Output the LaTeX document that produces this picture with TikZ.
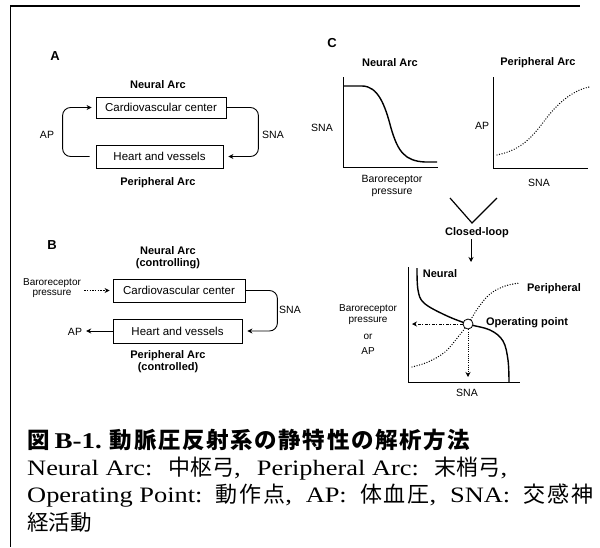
\documentclass[tikz,border=0pt]{standalone}
\usepackage{fontspec}
\setmainfont{Liberation Sans}
\newfontfamily\cjk{Noto Sans CJK JP}
\newfontfamily\rmx[FakeStretch=1.2]{Liberation Serif}
\usetikzlibrary{arrows.meta}
\newcommand\hf{\hspace{0pt plus 1fill}}
\newcommand\hc{\hspace{0pt plus 0.25fill}}
\begin{document}
\begin{tikzpicture}[x=1pt,y=-1pt,
  box/.style={draw, line width=0.8pt, inner sep=0pt, font=\fontsize{11.5}{13}\selectfont},
  lab/.style={font=\fontsize{10.5}{12}\selectfont, inner sep=1pt, align=center},
  blab/.style={font=\bfseries\fontsize{11}{12}\selectfont, inner sep=1pt, align=center},
  letter/.style={font=\bfseries\fontsize{13}{14}\selectfont, inner sep=0pt},
  conn/.style={line width=0.9pt, -{Stealth[length=5pt,width=5pt]}},
  axis/.style={line width=1pt},
  curve/.style={line width=1.4pt},
  dotc/.style={line width=1.4pt, dash pattern=on 0pt off 2.6pt, line cap=round},
  captxt/.style={anchor=base west, inner sep=0pt}]
\useasboundingbox (0,0) rectangle (600,547);
% frame
\draw[line width=1.5pt] (10,6) -- (580,6);
\draw[line width=0.8pt] (10.5,6) -- (10.5,547);

% ---------- Panel A
\node[letter] (lA) at (55,56) {A};
\node[blab] (naA) at (158,85) {Neural Arc};
\node[box, minimum width=130pt, minimum height=21pt] (cvA) at (161,107.5) {Cardiovascular center};
\node[box, minimum width=127pt, minimum height=23pt] (hvA) at (159.5,156.5) {Heart and vessels};
\node[blab] (paA) at (158,183) {Peripheral Arc};
\node[lab] (apA) at (47,135) {AP};
\node[lab] (snaA) at (273,135) {SNA};
\draw[conn, rounded corners=8pt, shorten <=6pt, shorten >=4pt] (hvA.west) -- ++(-33,0) |- (cvA.west);
\draw[conn, rounded corners=8pt, shorten >=5pt] (cvA.east) -- ++(32,0) |- (hvA.east);

% ---------- Panel B
\node[letter] (lB) at (52,245) {B};
\node[blab] (naB) at (168,257.5) {Neural Arc\\(controlling)};
\node[box, minimum width=132pt, minimum height=23pt] (cvB) at (179,290.5) {Cardiovascular center};
\node[box, minimum width=129pt, minimum height=24pt] (hvB) at (177.5,331) {Heart and vessels};
\node[blab] (paB) at (168,361.5) {Peripheral Arc\\(controlled)};
\node[lab, font=\fontsize{10}{10}\selectfont] (brB) at (52,288) {Baroreceptor\\pressure};
\draw[conn, dash pattern=on 1.5pt off 1.2pt, shorten <=2pt, shorten >=3pt] (brB.east |- cvB.west) -- (cvB.west);
\draw[conn, rounded corners=8pt, shorten >=5pt] (cvB.east) -- ++(32,0) |- (hvB.east);
\node[lab] (snaB) at (290,310) {SNA};
\node[lab] (apB) at (75,332) {AP};
\draw[conn, shorten >=3pt] (hvB.west) -- (apB.east |- hvB.west);

% ---------- Panel C
\node[letter] (lC) at (332,43) {C};
\node[blab] (naC) at (390,63) {Neural Arc};
\node[blab] (paC) at (538,63) {Peripheral Arc};
% graph 1
\coordinate (t1) at (343,77);
\coordinate (o1) at (343,167);
\coordinate (r1) at (438,167);
\draw[axis] (t1) -- (o1) -- (r1);
\draw[curve] (344,86) -- (362,86) .. controls (378,86) and (385,105) .. (391,128)
  .. controls (398,152) and (405,161) .. (425,162) -- (437,162);
\node[lab] (snaC1) at (322,128) {SNA};
\node[lab] (brC1) at (392,186) {Baroreceptor\\pressure};
% graph 2
\coordinate (t2) at (493,77);
\coordinate (o2) at (493,168);
\coordinate (r2) at (588,168);
\draw[axis] (t2) -- (o2) -- (r2);
\draw[dotc] (497,155) .. controls (520,150) and (530,140) .. (545,120)
  .. controls (560,100) and (575,90) .. (589,87);
\node[lab] (apC2) at (482,126) {AP};
\node[lab] (snaC2) at (539,183) {SNA};
% V and closed loop
\coordinate (v1) at (450,198);
\coordinate (v2) at (472,223);
\coordinate (v3) at (497,198);
\draw[line width=1.2pt] (v1) -- (v2) -- (v3);
\node[blab] (cl) at (477,233) {Closed-loop};
\coordinate (clarr) at (471,262);
\draw[conn] (cl.south -| clarr) -- (clarr);
% graph 3
\coordinate (t3) at (408,267);
\coordinate (o3) at (408,382);
\coordinate (r3) at (520,382);
\draw[axis] (t3) -- (o3) -- (r3);
\draw[curve] plot[smooth, tension=0.6] coordinates {(417,268) (418,290) (424,303) (445,315) (468,324) (490,330) (503,341) (508,360) (509,382)};
\draw[dotc] plot[smooth, tension=0.6] coordinates {(412,367) (428,362) (445,352) (458,337) (468,324) (478,308) (490,294) (505,286) (520,283)};
\node[circle, draw, fill=white, line width=0.8pt, minimum size=10pt, inner sep=0pt] (op) at (468,324) {};
\draw[conn, dash pattern=on 3pt off 1.5pt on 1pt off 1.5pt, shorten >=4pt] (op.west) -- (op.west -| t3);
\draw[conn, dash pattern=on 1pt off 1.2pt, shorten >=5pt] (op.south) -- (op.south |- o3);
\node[blab] (nlab) at (440,274) {Neural};
\node[blab] (plab) at (554,289) {Peripheral};
\node[blab] (oplab) at (527,323) {Operating point};
\node[lab, font=\fontsize{10}{11}\selectfont] (brC3) at (368,315) {Baroreceptor\\pressure};
\node[lab, font=\fontsize{10}{11}\selectfont] (orC3) at (368,337) {or};
\node[lab, font=\fontsize{10}{11}\selectfont] (apC3) at (368,351) {AP};
\node[lab] (snaC3) at (467,393) {SNA};

% ---------- caption
\node[captxt] (cap1) at (27,448) {\fontsize{22.5}{26}\selectfont\cjk\bfseries
  \hbox to 443pt{図\hspace{5pt}{\rmx\bfseries B-1.}\hspace{8pt}動\hf 脈\hf 圧\hf 反\hf 射\hf 系\hf の\hf 静\hf 特\hf 性\hf の\hf 解\hf 析\hf 方\hf 法}};
\node[captxt] (cap2) at (27,475) {\fontsize{22}{26}\selectfont\rmx
  \hbox to 480pt{Neural Arc:\hspace{6pt}\hf{\cjk 中枢弓}, \hf Peripheral Arc:\hspace{6pt}\hf{\cjk 末梢弓},}};
\node[captxt] (cap3) at (27,502) {\fontsize{22}{26}\selectfont\rmx
  \hbox to 566pt{Operating Point:\hspace{6pt}\hf{\cjk 動\hc 作\hc 点}, \hf AP:\hspace{6pt}\hf{\cjk 体\hc 血\hc 圧}, \hf SNA:\hspace{6pt}\hf{\cjk 交\hc 感\hc 神}}};
\node[captxt] (cap4) at (27,530) {\fontsize{21.5}{26}\selectfont\cjk 経活動};
\end{tikzpicture}
\end{document}
